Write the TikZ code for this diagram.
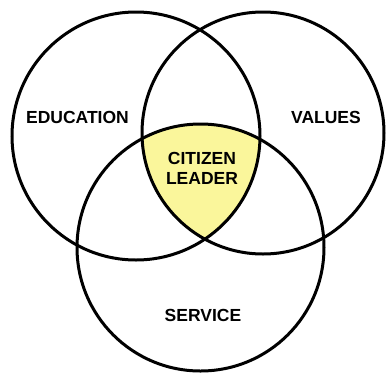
\documentclass[tikz,border=0pt]{standalone}
\usepackage{fontspec}
\setmainfont{Liberation Sans}
\definecolor{citizenfill}{RGB}{250,246,155}
\begin{document}
\begin{tikzpicture}[x=1pt,y=-1pt,
  ring/.style={draw=black,line width=3pt},
  lbl/.style={font=\bfseries\fontsize{17.5}{20}\selectfont,align=center,inner sep=0pt,text=black}]
\useasboundingbox (0,0) rectangle (386,373);
\fill[white] (0,0) rectangle (386,373);
\coordinate (L) at (136,136);
\coordinate (R) at (263,133);
\coordinate (B) at (200.5,247.5);
\begin{scope}
  \clip (L) circle (124pt);
  \clip (R) circle (121pt);
  \fill[citizenfill] (B) circle (123.5pt);
\end{scope}
\draw[ring] (L) circle (124pt);
\draw[ring] (R) circle (121pt);
\draw[ring] (B) circle (123.5pt);
\node[lbl] (edu) at (77.5,117.5) {EDUCATION};
\node[lbl] (val) at (326,117.5) {VALUES};
\node[lbl] (cit) at (202,168) {CITIZEN\\LEADER};
\node[lbl] (ser) at (203,315) {SERVICE};
\end{tikzpicture}
\end{document}
